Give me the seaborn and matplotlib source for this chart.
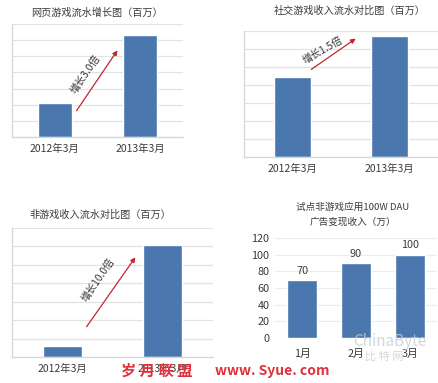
import numpy as np
import pandas as pd
import matplotlib
matplotlib.use("Agg")
import matplotlib.pyplot as plt
import seaborn as sns

sns.set_theme(style="white")
plt.rcParams["font.family"] = ["Noto Sans CJK SC", "DejaVu Sans"]

# data (relative units where no axis is shown)
months_yoy = ["2012年3月", "2013年3月"]
webgame_vals = [2.1, 6.3]        # 网页游戏流水 (增长3.0倍)
social_vals = [4.45, 6.7]        # 社交游戏收入流水 (增长1.5倍)
nongame_vals = [0.58, 6.1]       # 非游戏收入流水 (增长10.0倍)
ad_months = ["1月", "2月", "3月"]
ad_vals = [70, 90, 100]          # 广告变现收入 (万)

titles = ["网页游戏流水增长图（百万）", "社交游戏收入流水对比图（百万）",
          "非游戏收入流水对比图（百万）", "试点非游戏应用100W DAU\n广告变现收入（万）"]
growth_labels = ["增长3.0倍", "增长1.5倍", "增长10.0倍"]

BAR = "#4a77ae"
GRID = "#e3e3e3"
ARROW = "#c0282e"
TXT = "#3a3a3a"

W, H = 438, 383
fig = plt.figure(figsize=(W / 100, H / 100), dpi=100)
fig.patch.set_facecolor("white")


def px_axes(left, top, right, bottom):
    return fig.add_axes([left / W, 1 - bottom / H, (right - left) / W, (bottom - top) / H])


def growth_panel(box, vals, title, label, title_xy, arrow, text_xy, rot, width):
    ax = px_axes(*box)
    df = pd.DataFrame({"month": months_yoy, "value": vals})
    sns.barplot(data=df, x="month", y="value", color=BAR, saturation=1,
                width=width, ax=ax)
    ax.set_ylim(0, 7)
    ax.set_yticks(np.arange(0, 8))
    ax.yaxis.grid(True, color=GRID, linewidth=0.9)
    ax.set_axisbelow(True)
    ax.tick_params(axis="y", left=False, labelleft=False)
    ax.tick_params(axis="x", bottom=False, length=0, labelsize=7.5, colors=TXT, pad=5)
    for s in ["top", "right"]:
        ax.spines[s].set_visible(False)
    for s in ["left", "bottom"]:
        ax.spines[s].set_color("#d6d6d6")
        ax.spines[s].set_linewidth(0.9)
    ax.set_xlabel("")
    ax.set_ylabel("")
    fig.text(title_xy[0] / W, 1 - title_xy[1] / H, title, ha="center", va="center",
             fontsize=7.3, color=TXT)
    (x0, y0), (x1, y1) = arrow
    fig.add_artist(matplotlib.patches.FancyArrowPatch(
        (x0 / W, 1 - y0 / H), (x1 / W, 1 - y1 / H), transform=fig.transFigure,
        arrowstyle="-|>", mutation_scale=7, color=ARROW, linewidth=0.9))
    fig.text(text_xy[0] / W, 1 - text_xy[1] / H, label, ha="center", va="center",
             rotation=rot, fontsize=7.3, style="italic", color="#333333")
    return ax


growth_panel((12, 24, 183, 137), webgame_vals, titles[0], growth_labels[0],
             (97, 13), ((75, 113), (119, 48)), (86, 74), 56, 0.4)
growth_panel((244, 31, 438, 157), social_vals, titles[1], growth_labels[1],
             (350, 11), ((309, 71), (358, 37)), (323, 50), 30, 0.39)
growth_panel((12, 228, 213, 357), nongame_vals, titles[2], growth_labels[2],
             (100, 215), ((85, 329), (137, 255)), (98, 280), 56, 0.39)

# bottom-right: ad revenue
ax4 = px_axes(275, 238, 437, 338)
df4 = pd.DataFrame({"month": ad_months, "value": ad_vals})
sns.barplot(data=df4, x="month", y="value", color=BAR, saturation=1, width=0.56, ax=ax4)
ax4.set_ylim(0, 120)
ax4.set_yticks(np.arange(0, 121, 20))
ax4.yaxis.grid(True, color="#ececec", linewidth=0.8)
ax4.set_axisbelow(True)
sns.despine(ax=ax4, left=True, bottom=True)
ax4.tick_params(axis="y", left=False, length=0, labelsize=7.8, colors=TXT, pad=4)
ax4.tick_params(axis="x", bottom=False, length=0, labelsize=7.8, colors=TXT, pad=8)
ax4.set_xlabel("")
ax4.set_ylabel("")
for i, v in enumerate(ad_vals):
    ax4.text(i, v + 5, str(v), ha="center", va="bottom", fontsize=7.8, color=TXT)
fig.text(353 / W, 1 - 215 / H, titles[3], ha="center", va="center",
         fontsize=6.9, color=TXT, linespacing=1.7)

# watermarks
fig.text(157 / W, 1 - 371 / H, "岁 月 联 盟", ha="center", va="center",
         fontsize=11, color="#e0303a", fontweight="bold")
fig.text(272 / W, 1 - 371 / H, "www. Syue. com", ha="center", va="center",
         fontsize=10, color="#e0303a", fontweight="bold")
fig.text(390 / W, 1 - 342 / H, "ChinaByte", ha="center", va="center",
         fontsize=11, color="#c8ccd2", alpha=0.8)
fig.text(384 / W, 1 - 357 / H, "比 特 网", ha="center", va="center",
         fontsize=8, color="#c8ccd2", alpha=0.8)

fig.savefig("out.png", dpi=100, facecolor="white")
